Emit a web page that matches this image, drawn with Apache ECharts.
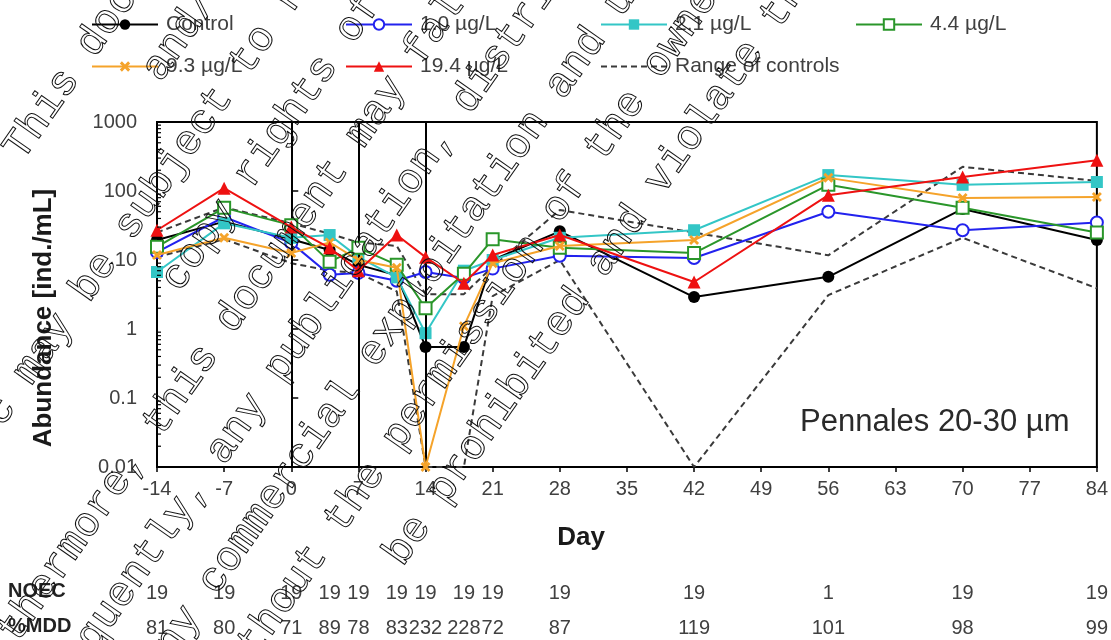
<!DOCTYPE html>
<html>
<head>
<meta charset="utf-8">
<script src="https://cdn.jsdelivr.net/npm/echarts/dist/echarts.min.js"></script>
<style>
  html, body { margin: 0; padding: 0; background: #fff; }
  #chart { width: 1111px; height: 640px; }
</style>
</head>
<body>
<div id="chart"></div>
<script>
// Sampling days
const DAYS = [-14, -7, 0, 4, 7, 11, 14, 18, 21, 28, 42, 56, 70, 84];

// Abundance of Pennales 20-30 µm [ind./mL] per treatment
const CONTROL = [19.5, 36, 20, 14, 8.5, 6, 0.55, 0.55, 10, 26, 2.9, 5.7, 55, 19.5];
const C_1_0   = [13, 42, 17.7, 6.1, 6.5, 5, 6.7, 5.5, 7.5, 11.5, 10.7, 50, 27, 35];
const C_2_1   = [6.7, 34, 21, 23, 11, 5.6, 0.87, 7, 10, 21, 27, 170, 123, 135];
const C_4_4   = [15.5, 57, 32, 9.4, 15, 8.5, 2.0, 6.3, 20, 15, 12.6, 123, 57, 25];
const C_9_3   = [11.8, 21, 12.6, 18, 10, 7.7, 0.01, 1.1, 9, 16, 19.5, 155, 79, 82];
const C_19_4  = [27, 110, 30, 15, 7, 23, 11, 4.6, 11.8, 23, 4.8, 87, 160, 280];

// Range of controls (upper and lower bound)
const RANGE_HI = [25, 58, 34, 24, 18, 16, 3.2, 3.2, 8, 53, 25, 11.7, 224, 140];
const RANGE_LO = [11, 20, 9, 7, 6.5, 3.5, 0.01, 0.01, 3, 10, 0.01, 3.1, 21, 3.9];

// Application days (vertical markers)
const APPLICATION_DAYS = [0, 7, 14];

// Statistics rows below the axis
const NOEC = ['19', '19', '19', '19', '19', '19', '19', '19', '19', '19', '19', '1', '19', '19'];
const MDD  = ['81', '80', '71', '89', '78', '83', '232', '228', '72', '87', '119', '101', '98', '99'];

const X_MIN = -14, X_MAX = 84, X_STEP = 7;
const Y_MIN = 0.01, Y_MAX = 1000;

const FONT = "'Liberation Sans', Arial, sans-serif";
const TEXT_GRAY = '#404040';

const chart = echarts.init(document.getElementById('chart'), null, { renderer: 'canvas' });

const CROSS = 'path://M0,2L2,0L5,3L8,0L10,2L7,5L10,8L8,10L5,7L2,10L0,8L3,5Z';

function pairs(vals) { return DAYS.map((d, i) => [d, vals[i]]); }

function treatment(name, vals, color, symbol, size, z) {
  return {
    name, type: 'line', data: pairs(vals), z,
    symbol, symbolSize: size,
    lineStyle: { color, width: 2 },
    itemStyle: { color, borderColor: color, borderWidth: symbol.startsWith('empty') ? 2 : 0 },
    emphasis: { disabled: true }
  };
}

function rangeLine(vals) {
  return {
    name: 'Range of controls', type: 'line', data: pairs(vals), z: 1,
    symbol: 'none', showSymbol: false,
    lineStyle: { color: '#3a3a3a', width: 2, type: [6, 4] },
    itemStyle: { color: '#3a3a3a' },
    emphasis: { disabled: true }
  };
}

// log minor ticks 2..9 within each decade
const MINOR = [];
for (let e = -2; e < 3; e++) for (let m = 2; m <= 9; m++) MINOR.push(+(m * Math.pow(10, e)).toPrecision(3));

const legendSlots = [
  { name: 'Control', left: 91, top: 14 },
  { name: '1.0 µg/L', left: 345, top: 14 },
  { name: '2.1 µg/L', left: 600, top: 14 },
  { name: '4.4 µg/L', left: 855, top: 14 },
  { name: '9.3 µg/L', left: 91, top: 56 },
  { name: '19.4 µg/L', left: 345, top: 56 },
  { name: 'Range of controls', left: 600, top: 56, lineOnly: true }
];

const option = {
  animation: false,
  backgroundColor: '#fff',
  legend: legendSlots.map(s => ({
    data: [s.lineOnly ? { name: s.name, itemStyle: { opacity: 0 } } : s.name],
    left: s.left, top: s.top,
    itemWidth: 66, itemHeight: 13, itemGap: 0, padding: 0,
    textStyle: { fontFamily: FONT, fontSize: 21, color: TEXT_GRAY, padding: [0, 0, 0, 3] },
    selectedMode: false
  })),
  grid: { left: 157, right: 13, top: 122, bottom: 173, show: true, borderColor: '#000', borderWidth: 2 },
  xAxis: {
    type: 'value', min: X_MIN, max: X_MAX, interval: X_STEP,
    axisLine: { lineStyle: { color: '#000', width: 2 } },
    axisTick: { show: true, length: 5, lineStyle: { color: '#000', width: 1.5 } },
    axisLabel: { margin: 12, fontFamily: FONT, fontSize: 20, color: TEXT_GRAY },
    splitLine: { show: false }
  },
  yAxis: {
    type: 'log', logBase: 10, min: Y_MIN, max: Y_MAX,
    axisLine: { show: true, lineStyle: { color: '#000', width: 2 } },
    axisTick: { show: true, inside: true, length: 7, lineStyle: { color: '#000', width: 1.5 } },
    axisLabel: { margin: 20, fontFamily: FONT, fontSize: 20, color: TEXT_GRAY,
                 formatter: v => String(+v.toPrecision(3)) },
    splitLine: { show: false }
  },
  series: [
    rangeLine(RANGE_HI),
    rangeLine(RANGE_LO),
    Object.assign(treatment('Control', CONTROL, '#000000', 'circle', 12, 2), {
      markLine: {
        silent: true, symbol: 'none', label: { show: false },
        lineStyle: { color: '#000', width: 2, type: 'solid' },
        data: APPLICATION_DAYS.map(d => ({ xAxis: d }))
      }
    }),
    treatment('1.0 µg/L', C_1_0, '#2222ee', 'emptyCircle', 12, 3),
    treatment('2.1 µg/L', C_2_1, '#33c6c6', 'rect', 12, 4),
    treatment('4.4 µg/L', C_4_4, '#2a962a', 'emptyRect', 12, 5),
    treatment('9.3 µg/L', C_9_3, '#f5a32a', CROSS, 10, 6),
    treatment('19.4 µg/L', C_19_4, '#ee1111', 'triangle', 13, 7),
    {
      type: 'custom', silent: true, z: 8,
      data: MINOR.map(v => [X_MIN, v]),
      renderItem: (params, api) => {
        const p = api.coord([api.value(0), api.value(1)]);
        return { type: 'line', shape: { x1: p[0], y1: p[1], x2: p[0] + 4, y2: p[1] },
                 style: { stroke: '#000', lineWidth: 1.2 } };
      }
    }
  ]
};

chart.setOption(option);

// Texts placed from the axis scales
const graphics = [];
const rowLabel = (text, y) => ({
  type: 'text', left: 8, top: y - 12,
  style: { text, font: `bold 20px ${FONT}`, fill: '#222' }
});
graphics.push(rowLabel('NOEC', 593));
graphics.push(rowLabel('%MDD', 628));
DAYS.forEach((d, i) => {
  const x = chart.convertToPixel({ xAxisIndex: 0 }, d);
  graphics.push({ type: 'text', x, y: 593,
    style: { text: NOEC[i], font: `20px ${FONT}`, fill: TEXT_GRAY, align: 'center', verticalAlign: 'middle' } });
  graphics.push({ type: 'text', x, y: 628,
    style: { text: MDD[i], font: `20px ${FONT}`, fill: TEXT_GRAY, align: 'center', verticalAlign: 'middle' } });
});

// Axis titles and panel caption
graphics.push({ type: 'text', x: 44, y: 318, rotation: Math.PI / 2,
  style: { text: 'Abundance [ind./mL]', font: `bold 26px ${FONT}`, fill: '#1a1a1a', align: 'center', verticalAlign: 'middle' } });
graphics.push({ type: 'text', x: 581, y: 538,
  style: { text: 'Day', font: `bold 26px ${FONT}`, fill: '#1a1a1a', align: 'center', verticalAlign: 'middle' } });
graphics.push({ type: 'text', x: 800, y: 422,
  style: { text: 'Pennales 20-30 µm', font: `31px ${FONT}`, fill: '#2a2a2a', align: 'left', verticalAlign: 'middle' } });

// Diagonal outlined ownership notice
const ANGLE = 55 * Math.PI / 180;
const UX = Math.cos(ANGLE), UY = -Math.sin(ANGLE);
const NX = Math.sin(ANGLE), NY = Math.cos(ANGLE);
const NOTICE = [
  [0, -120, 'This document is the property of Bayer AG'],
  [1, 24, 'and/or any of its affiliates. It'],
  [2, -349, 'c may be subject to rights such as'],
  [3, -137, 'copy rights of the owner and third parties.'],
  [4, -594, 'Furthermore, this document may fall under a'],
  [5, -606, 'Consequently, any publication, distribution,'],
  [6, -465, 'any commercial exploitation and use of this'],
  [7, -443, 'without the permission of the owner of this'],
  [8, -234, 'be prohibited and violate the rights of its owner.']
];
NOTICE.forEach(([k, s, text]) => {
  const d = 100 + 68 * k;
  graphics.push({
    type: 'text', z: 100, silent: true,
    x: d * NX + s * UX, y: d * NY + s * UY, rotation: ANGLE,
    style: { text, font: `42px 'Liberation Mono', 'DejaVu Sans Mono', monospace`,
             fill: 'rgba(255,255,255,0)', stroke: '#111', lineWidth: 1,
             align: 'left', verticalAlign: 'middle' }
  });
});

chart.setOption({ graphic: graphics });
</script>
</body>
</html>
